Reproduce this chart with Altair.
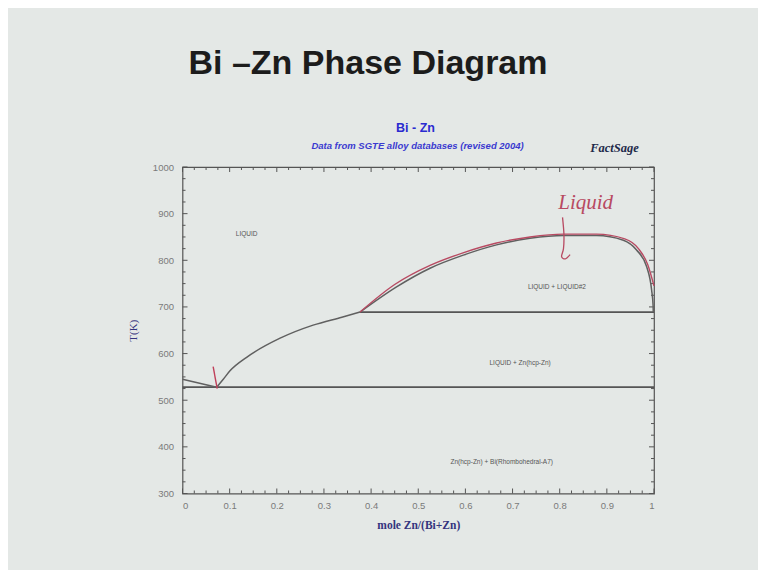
import altair as alt
import pandas as pd

# ---------------- data ----------------
x_major = [0, 0.1, 0.2, 0.3, 0.4, 0.5, 0.6, 0.7, 0.8, 0.9, 1.0]
x_minor = [0.025, 0.05, 0.075, 0.125, 0.15, 0.175, 0.225, 0.25, 0.275, 0.325, 0.35, 0.375,
           0.425, 0.45, 0.475, 0.525, 0.55, 0.575, 0.625, 0.65, 0.675, 0.725, 0.75, 0.775,
           0.825, 0.85, 0.875, 0.925, 0.95, 0.975]
y_major = [300, 400, 500, 600, 700, 800, 900, 1000]
y_minor = [325, 350, 375, 425, 450, 475, 525, 550, 575, 625, 650, 675,
           725, 750, 775, 825, 850, 875, 925, 950, 975]

# Bi-side liquidus
bi_liq_x = [0.0, 0.0725]
bi_liq_T = [545, 528]
# Zn(hcp) liquidus from eutectic to monotectic
zn_liq_x = [0.0725, 0.0865, 0.1007, 0.136, 0.207, 0.277, 0.338, 0.3765]
zn_liq_T = [528, 545, 563, 592, 633, 661, 678, 689]
# miscibility gap (calculated, grey)
gap_x = [0.3765, 0.454, 0.525, 0.5955, 0.666, 0.737, 0.808, 0.878, 0.935, 0.963, 0.9845, 0.995, 0.998, 0.9985]
gap_T = [689, 743, 783, 811, 833, 847, 853, 853, 843, 822, 786, 736, 704, 689]
# hand-traced red curve
red_x = [0.3765, 0.45, 0.525, 0.595, 0.666, 0.737, 0.808, 0.878, 0.938, 0.967, 0.987, 1.0]
red_T = [689, 748, 789, 816, 837, 850, 856, 856, 846, 825, 790, 745]
# invariant lines
eut_x = [0.0, 1.0]
eut_T = [528, 528]
mono_x = [0.3765, 1.0]
mono_T = [689, 689]

phase_labels = ["LIQUID", "LIQUID + LIQUID#2", "LIQUID + Zn(hcp-Zn)", "Zn(hcp-Zn) + Bi(Rhombohedral-A7)"]
phase_x = [0.136, 0.794, 0.716, 0.677]
phase_T = [856, 743, 580, 368]

note_text = ["Liquid"]
note_x = [0.855]
note_T = [922]
arrow_x = [0.806, 0.809, 0.808, 0.804, 0.812, 0.822]
arrow_T = [892, 855, 825, 808, 803, 812]
mark_x = [0.065, 0.0736]
mark_T = [572, 525]

slide_title = ["Bi \u2013Zn Phase Diagram"]
chart_title = ["Bi - Zn"]
chart_subtitle = ["Data from SGTE alloy databases (revised 2004)"]
logo_text = ["FactSage"]

# ---------------- layout ----------------
W, H = 471.5, 326.5
xs = alt.Scale(domain=[0, 1], nice=False, zero=False)
ys = alt.Scale(domain=[300, 1000], nice=False, zero=False)

x_axis = alt.Axis(values=x_major, format="~g", ticks=False, grid=False, domain=False,
                  labelFontSize=9.5, labelColor="#7a7a7a", labelPadding=7, labelFont="Liberation Sans",
                  title="mole Zn/(Bi+Zn)", titleFont="Liberation Serif", titleFontSize=11.5,
                  titleFontWeight="bold", titleColor="#34347e", titlePadding=9)
y_axis = alt.Axis(values=y_major, format="d", ticks=False, grid=False, domain=False,
                  labelFontSize=9.5, labelColor="#7a7a7a", labelPadding=9, labelFont="Liberation Sans",
                  title="T(K)", titleFont="Liberation Serif", titleFontSize=11,
                  titleFontWeight="normal", titleColor="#34347e", titlePadding=14)

X = alt.X("x:Q", scale=xs, axis=x_axis)
Y = alt.Y("T:Q", scale=ys, axis=y_axis)


def line(xv, tv, color, width, interp="linear"):
    df = pd.DataFrame({"x": xv, "T": tv, "i": list(range(len(xv)))})
    return alt.Chart(df).mark_line(color=color, strokeWidth=width, clip=False,
                                   interpolate=interp).encode(x=X, y=Y, order="i:Q")


def xticks(vals, y0, y1):
    return alt.Chart(pd.DataFrame({"x": vals})).mark_rule(color="#555", strokeWidth=1).encode(
        x=X, y=alt.value(y0), y2=alt.value(y1))


def yticks(vals, x0, x1):
    return alt.Chart(pd.DataFrame({"T": vals})).mark_rule(color="#555", strokeWidth=1).encode(
        y=Y, x=alt.value(x0), x2=alt.value(x1))


def free_text(txt, px, py, size, color, weight="normal", style="normal", font="Liberation Sans"):
    return alt.Chart(pd.DataFrame({"t": txt})).mark_text(
        fontSize=size, color=color, fontWeight=weight, fontStyle=style, font=font,
        align="center", baseline="middle").encode(text="t:N", x=alt.value(px), y=alt.value(py))


layers = [
    xticks(x_major, H, H - 5), xticks(x_minor, H, H - 3),
    xticks(x_major, 0, 5), xticks(x_minor, 0, 3),
    yticks(y_major, 0, 5), yticks(y_minor, 0, 3),
    yticks(y_major, W, W - 5), yticks(y_minor, W, W - 3),
    line(eut_x, eut_T, "#555555", 1.7),
    line(mono_x, mono_T, "#555555", 1.7),
    line(bi_liq_x, bi_liq_T, "#606060", 1.5),
    line(zn_liq_x, zn_liq_T, "#606060", 1.5, "monotone"),
    line(gap_x, gap_T, "#606060", 1.5, "monotone"),
    line(red_x, red_T, "#b84a62", 1.4, "monotone"),
    line(arrow_x, arrow_T, "#b84a62", 1.3, "cardinal"),
    line(mark_x, mark_T, "#c0405a", 1.4),
    alt.Chart(pd.DataFrame({"x": phase_x, "T": phase_T, "t": phase_labels})).mark_text(
        fontSize=6.5, color="#555", font="Liberation Sans").encode(x=X, y=Y, text="t:N"),
    alt.Chart(pd.DataFrame({"x": note_x, "T": note_T, "t": note_text})).mark_text(
        fontSize=21, color="#b84a62", font="Liberation Serif", fontStyle="italic").encode(
        x=X, y=Y, text="t:N"),
    free_text(slide_title, 185.5, -103, 34, "#1c1c1c", weight="bold"),
    free_text(chart_title, 233, -39, 12.5, "#2a2ad0", weight="bold"),
    free_text(chart_subtitle, 235, -21, 9.5, "#3a3ad0", weight="bold", style="italic"),
    free_text(logo_text, 432, -19, 12.5, "#1e2a4a", weight="bold", style="italic", font="Liberation Serif"),
]

chart = alt.layer(*layers).properties(
    width=W, height=H,
    autosize=alt.AutoSizeParams(type="none"),
    padding={"left": 174.5, "top": 159, "right": 104, "bottom": 76},
    background="#e4e8e6",
).configure_view(stroke="#555555", strokeWidth=1.2)

chart.save("out.html", embed_options={"renderer": "svg", "actions": False})
